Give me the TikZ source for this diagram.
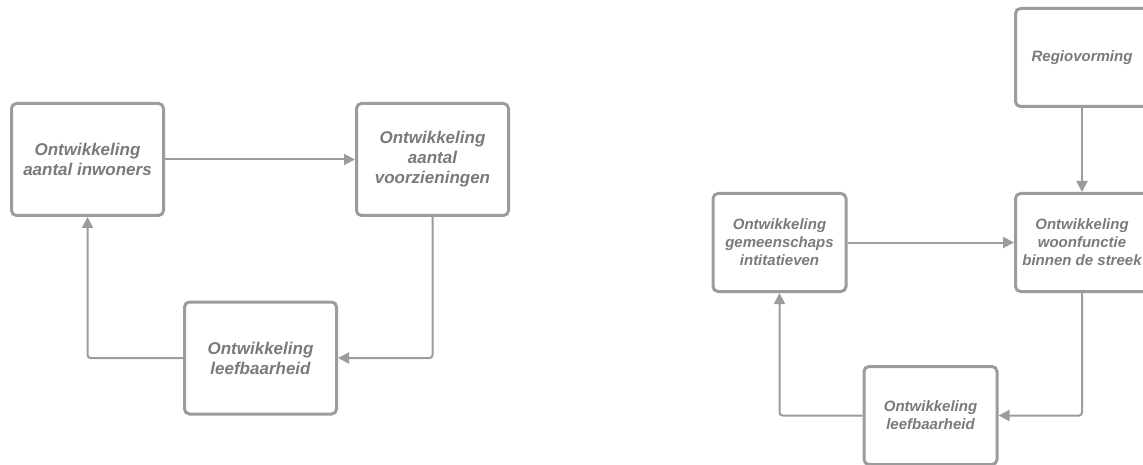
\documentclass[tikz,border=0pt]{standalone}
\usepackage{fontspec}
\setmainfont{Liberation Sans}
\usetikzlibrary{arrows.meta}
\definecolor{boxline}{HTML}{9C9C9C}
\definecolor{boxtext}{HTML}{7A7A7A}
\tikzset{
  box/.style={draw=boxline, line width=3pt, rounded corners=5pt, fill=white,
    align=center, inner sep=0pt, text=boxtext,
    font=\fontsize{17}{20}\selectfont\bfseries\itshape},
  bigbox/.style={box, minimum width=152pt, minimum height=112pt},
  smallbox/.style={box, minimum width=133pt, minimum height=98pt,
    font=\fontsize{15}{18}\selectfont\bfseries\itshape},
  link/.style={draw=boxline, line width=2pt, rounded corners=3pt,
    -{Triangle[length=11pt,width=11pt]}}
}
\begin{document}
\begin{tikzpicture}[x=1pt,y=-1pt]
\clip (0,0) rectangle (1143,465);
\fill[white] (0,0) rectangle (1143,465);

% first feedback loop
\node[bigbox] (inw) at (87.5,159.5) {Ontwikkeling\\aantal inwoners};
\node[bigbox] (voor) at (432.5,159.5) {Ontwikkeling\\aantal\\voorzieningen};
\node[bigbox] (leef1) at (260.5,358) {Ontwikkeling\\leefbaarheid};

\draw[link] (inw.east) -- (voor.west);
\draw[link] (voor.south) |- (leef1.east);
\draw[link] (leef1.west) -| (inw.south);

% second feedback loop
\node[smallbox] (regio) at (1082,57.5) {Regiovorming};
\node[smallbox] (woon) at (1082,242.5) {Ontwikkeling\\woonfunctie\\binnen de streek};
\node[smallbox] (gem) at (779.5,242.5) {Ontwikkeling\\gemeenschaps\\intitatieven};
\node[smallbox] (leef2) at (930.5,415.5) {Ontwikkeling\\leefbaarheid};

\draw[link] (regio.south) -- (woon.north);
\draw[link] (gem.east) -- (woon.west);
\draw[link] (woon.south) |- (leef2.east);
\draw[link] (leef2.west) -| (gem.south);
\end{tikzpicture}
\end{document}
